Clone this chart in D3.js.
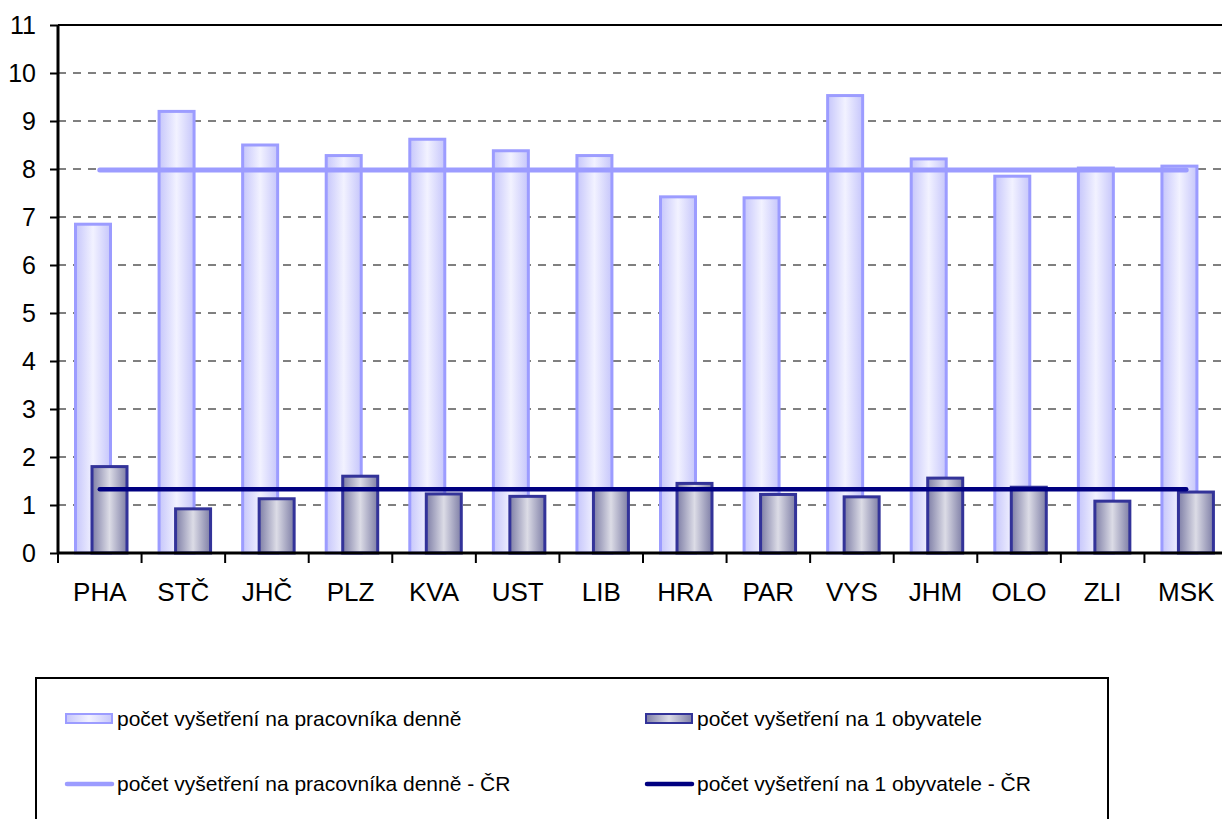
<!DOCTYPE html>
<html>
<head>
<meta charset="utf-8">
<script src="https://cdn.jsdelivr.net/npm/d3@7"></script>
<style>
  body { margin: 0; background: #fff; }
  text { font-family: "Liberation Sans", Arial, sans-serif; fill: #000; }
</style>
</head>
<body>
<div id="chart"></div>
<script>
// kraje
var regions = ["PHA", "STČ", "JHČ", "PLZ", "KVA", "UST", "LIB", "HRA", "PAR", "VYS", "JHM", "OLO", "ZLI", "MSK"];

// počet vyšetření na pracovníka denně
var perWorker = [6.85, 9.2, 8.5, 8.28, 8.62, 8.38, 8.28, 7.42, 7.4, 9.53, 8.21, 7.85, 8.02, 8.06];

// počet vyšetření na 1 obyvatele
var perCapita = [1.8, 0.92, 1.13, 1.6, 1.23, 1.18, 1.33, 1.45, 1.22, 1.17, 1.56, 1.37, 1.08, 1.27];

// průměr ČR
var perWorkerCR = 7.98;
var perCapitaCR = 1.33;

var yTicks = [0, 1, 2, 3, 4, 5, 6, 7, 8, 9, 10, 11];

var legendLabels = [
  "počet vyšetření na pracovníka denně",
  "počet vyšetření na 1 obyvatele",
  "počet vyšetření na pracovníka denně - ČR",
  "počet vyšetření na 1 obyvatele - ČR"
];

var W = 1222, H = 819;
var margin = {top: 25, left: 58};
var plotW = 1170, plotH = 528;

var svg = d3.select("#chart")
  .append("svg")
    .attr("width", W)
    .attr("height", H);

// gradients for the bars
var defs = svg.append("defs");
function grad(id, edge, mid) {
  var g = defs.append("linearGradient").attr("id", id)
    .attr("x1", "0%").attr("x2", "100%").attr("y1", "0%").attr("y2", "0%");
  g.append("stop").attr("offset", "0%").attr("stop-color", edge);
  g.append("stop").attr("offset", "50%").attr("stop-color", mid);
  g.append("stop").attr("offset", "100%").attr("stop-color", edge);
}
grad("gLight", "#c6c6fb", "#f2f2ff");
grad("gDark", "#7e7ea6", "#dcdce6");

var g = svg.append("g")
  .attr("transform", "translate(" + margin.left + "," + margin.top + ")");

var x = d3.scaleBand()
  .domain(regions)
  .range([0, plotW]);

var y = d3.scaleLinear()
  .domain([0, 11])
  .range([plotH, 0]);

// dashed gridlines
g.selectAll(".grid")
  .data(yTicks.filter(function(d) { return d > 0 && d < 11; }))
  .enter().append("line")
    .attr("x1", 0)
    .attr("x2", plotW)
    .attr("y1", function(d) { return y(d); })
    .attr("y2", function(d) { return y(d); })
    .attr("stroke", "#000")
    .attr("stroke-width", 1)
    .attr("stroke-dasharray", "8,7");

// top border of plot area
g.append("line")
  .attr("x1", 0).attr("x2", plotW)
  .attr("y1", y(11)).attr("y2", y(11))
  .attr("stroke", "#000").attr("stroke-width", 2);

var bw = 35;

// bars - per worker
g.selectAll(".barLight")
  .data(perWorker)
  .enter().append("rect")
    .attr("x", function(d, i) { return x(regions[i]) + 17.5; })
    .attr("y", function(d) { return y(d); })
    .attr("width", bw)
    .attr("height", function(d) { return plotH - y(d); })
    .attr("fill", "url(#gLight)")
    .attr("stroke", "#9c9cff")
    .attr("stroke-width", 3);

// bars - per capita
g.selectAll(".barDark")
  .data(perCapita)
  .enter().append("rect")
    .attr("x", function(d, i) { return x(regions[i]) + 34; })
    .attr("y", function(d) { return y(d); })
    .attr("width", bw)
    .attr("height", function(d) { return plotH - y(d); })
    .attr("fill", "url(#gDark)")
    .attr("stroke", "#333399")
    .attr("stroke-width", 3);

// ČR lines
var cx = function(i) { return x(regions[i]) + x.bandwidth() / 2; };
var line = d3.line()
  .x(function(d, i) { return cx(i); })
  .y(function(d) { return y(d); });

g.append("path")
  .datum(regions.map(function() { return perWorkerCR; }))
  .attr("d", line)
  .attr("fill", "none")
  .attr("stroke", "#9c9cff")
  .attr("stroke-width", 5)
  .attr("stroke-linecap", "round");

g.append("path")
  .datum(regions.map(function() { return perCapitaCR; }))
  .attr("d", line)
  .attr("fill", "none")
  .attr("stroke", "#000080")
  .attr("stroke-width", 4.5)
  .attr("stroke-linecap", "round");

// y axis
var yAxis = g.append("g")
  .call(d3.axisLeft(y).tickValues(yTicks).tickSize(8).tickPadding(14).tickFormat(d3.format("d")));
yAxis.select(".domain").attr("stroke-width", 3).attr("d", "M0," + plotH + "V0");
yAxis.selectAll(".tick line").attr("stroke-width", 2);
yAxis.selectAll(".tick text")
  .style("font-family", "'Liberation Sans', Arial, sans-serif")
  .style("font-size", "25px").attr("dy", "0.35em");

// x axis
var xAxis = g.append("g")
  .attr("transform", "translate(0," + plotH + ")")
  .call(d3.axisBottom(x).tickSize(0).tickPadding(30));
xAxis.select(".domain").attr("stroke-width", 3).attr("d", "M0,0H" + plotW);
xAxis.selectAll(".tick text")
  .style("font-family", "'Liberation Sans', Arial, sans-serif")
  .style("font-size", "26px");
xAxis.selectAll(".sep")
  .data(regions)
  .enter().append("line")
    .attr("x1", function(d) { return x(d); })
    .attr("x2", function(d) { return x(d); })
    .attr("y1", 0).attr("y2", 10)
    .attr("stroke", "#000").attr("stroke-width", 2);

// legend
var legend = svg.append("g");
legend.append("rect")
  .attr("x", 36).attr("y", 678)
  .attr("width", 1072).attr("height", 160)
  .attr("fill", "#fff")
  .attr("stroke", "#000")
  .attr("stroke-width", 2);

var legItems = [
  {x: 65, y: 719, type: "light"},
  {x: 645, y: 719, type: "dark"},
  {x: 65, y: 784, type: "lineLight"},
  {x: 645, y: 784, type: "lineDark"}
];

legItems.forEach(function(it, i) {
  if (it.type === "light" || it.type === "dark") {
    legend.append("rect")
      .attr("x", it.x + 1).attr("y", it.y - 5)
      .attr("width", 46).attr("height", 9)
      .attr("fill", it.type === "light" ? "url(#gLight)" : "url(#gDark)")
      .attr("stroke", it.type === "light" ? "#9c9cff" : "#333399")
      .attr("stroke-width", 2);
  } else {
    legend.append("line")
      .attr("x1", it.x + 2).attr("x2", it.x + 47)
      .attr("y1", it.y).attr("y2", it.y)
      .attr("stroke", it.type === "lineLight" ? "#9c9cff" : "#000080")
      .attr("stroke-width", 4.5)
      .attr("stroke-linecap", "round");
  }
  legend.append("text")
    .attr("x", it.x + 52)
    .attr("y", it.y)
    .attr("dy", "0.35em")
    .style("font-size", "21px")
    .text(legendLabels[i]);
});
</script>
</body>
</html>
